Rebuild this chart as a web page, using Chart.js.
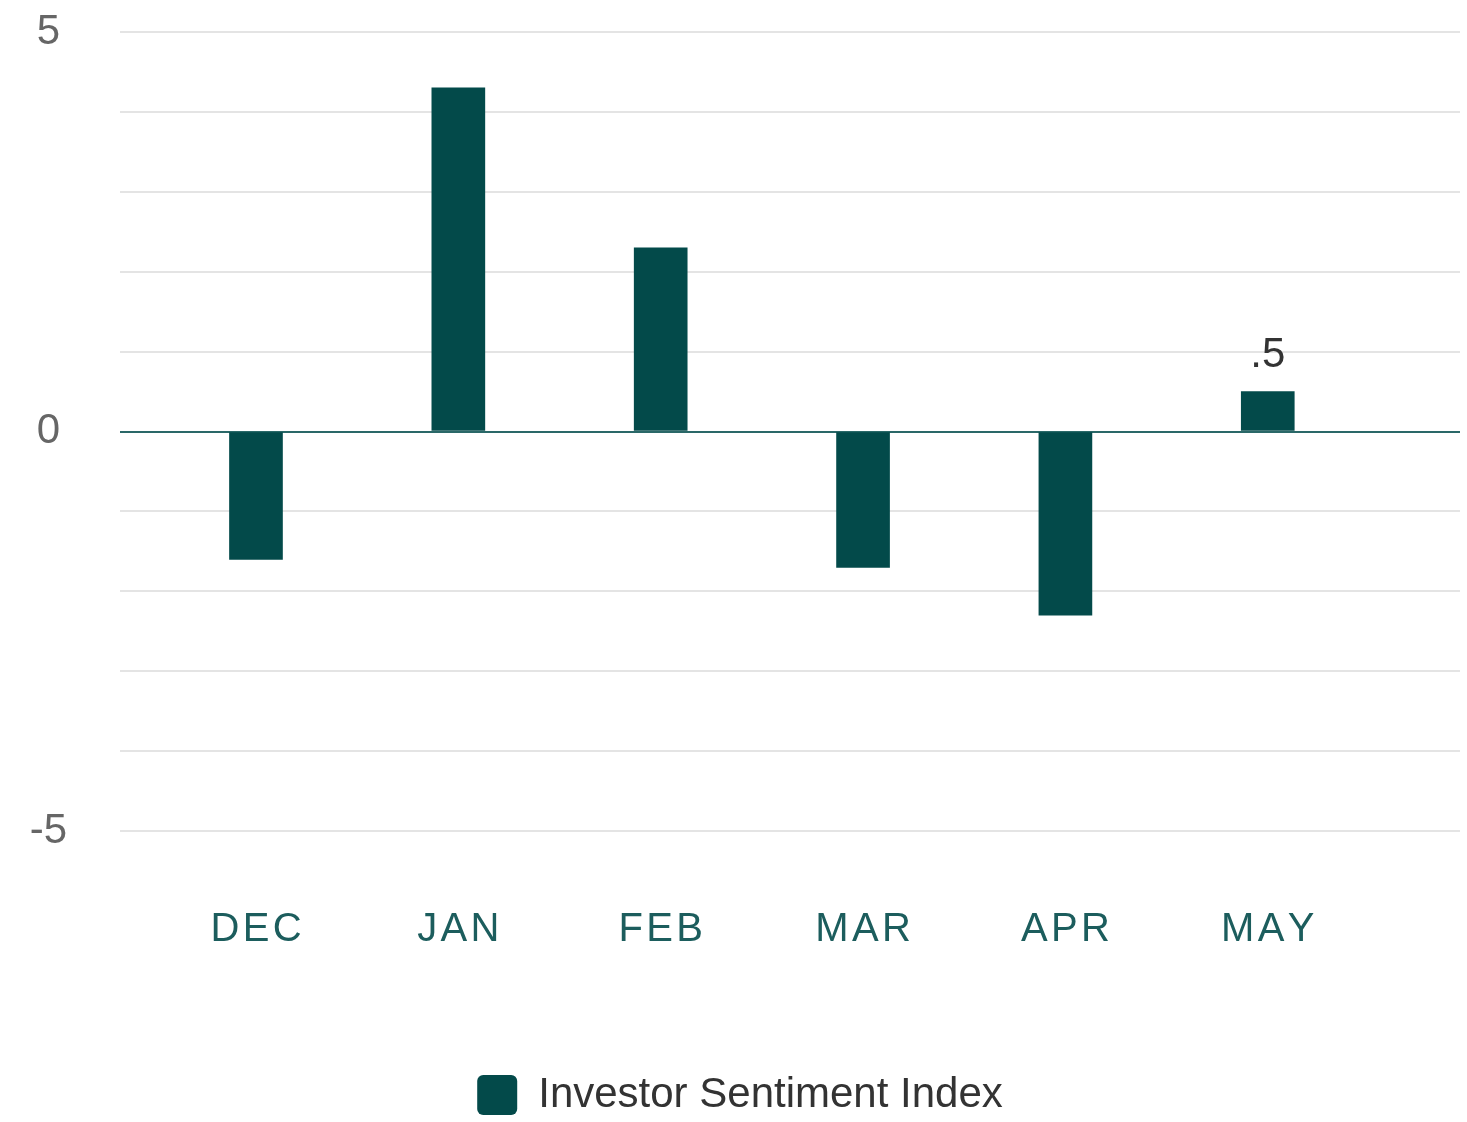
<!DOCTYPE html>
<html>
<head>
<meta charset="utf-8">
<title>Investor Sentiment Index</title>
<script src="https://cdn.jsdelivr.net/npm/chart.js@4.4.1/dist/chart.umd.min.js"></script>
<style>
  html, body { margin: 0; padding: 0; background: #fff; }
  #wrap { width: 1467px; height: 1122px; }
</style>
</head>
<body>
<div id="wrap"><canvas id="chart"></canvas></div>
<script>
  // monthly readings
  const months = ["DEC", "JAN", "FEB", "MAR", "APR", "MAY"];
  const sentiment = [-1.6, 4.3, 2.3, -1.7, -2.3, 0.5];
  const yTicks = [-5, 0, 5];
  const labelled = ["MAY"];   // only this bar carries a value label

  const TEAL = "#034a4a";
  const FONT = "'Liberation Sans', Arial, sans-serif";

  // value label above chosen bars, placed from the bar element itself
  const barLabels = {
    id: "barLabels",
    afterDatasetsDraw(chart) {
      const ctx = chart.ctx;
      const meta = chart.getDatasetMeta(0);
      ctx.save();
      ctx.font = "42px " + FONT;
      ctx.fillStyle = "#333";
      ctx.textAlign = "center";
      ctx.textBaseline = "bottom";
      meta.data.forEach((bar, i) => {
        if (!labelled.includes(months[i])) return;
        const txt = String(sentiment[i]).replace(/^0\./, ".");
        ctx.fillText(txt, bar.x, bar.y - 15);
      });
      ctx.restore();
    }
  };

  new Chart(document.getElementById("chart"), {
    type: "bar",
    data: {
      datasets: [{
        label: "Investor Sentiment Index",
        data: sentiment.map((v, i) => ({ x: i, y: v })),
        backgroundColor: TEAL,
        borderWidth: 0,
        barThickness: 53
      }]
    },
    options: {
      responsive: true,
      maintainAspectRatio: false,
      animation: false,
      layout: { padding: { top: 32, right: 7, bottom: -4, left: 20 } },
      plugins: {
        tooltip: { enabled: false },
        legend: {
          position: "bottom",
          labels: {
            boxWidth: 40, boxHeight: 40, useBorderRadius: true, borderRadius: 6,
            color: "#333", padding: 10,
            font: { family: FONT, size: 42 }
          }
        }
      },
      scales: {
        x: {
          type: "linear",
          offset: false,
          min: -0.672, max: 5.95,
          grid: { display: false },
          border: { display: false },
          afterBuildTicks: (s) => { s.ticks = months.map((m, i) => ({ value: i })); },
          afterFit: (s) => { s.height = 233; s.paddingLeft = 0; s.paddingRight = 0; },
          ticks: {
            padding: 67,
            color: "#1c5d5d",
            autoSkip: false, maxRotation: 0,
            font: { family: FONT, size: 40 },
            callback: (v) => months[v] ? months[v].split("").join("\u200A") : ""
          }
        },
        y: {
          min: -5, max: 5,
          border: { display: false },
          grid: {
            drawTicks: false,
            lineWidth: 2,
            color: (c) => c.tick && c.tick.value === 0 ? "#2a6868" : "#e4e4e4"
          },
          afterFit: (s) => { s.width = 100; s.paddingTop = 0; s.paddingBottom = 0; },
          ticks: {
            stepSize: 1,
            padding: 53,
            crossAlign: "center",
            color: "#666",
            font: { family: FONT, size: 42 },
            callback: (v) => yTicks.includes(v) ? String(v) : ""
          }
        }
      }
    },
    plugins: [barLabels]
  });
</script>
</body>
</html>
